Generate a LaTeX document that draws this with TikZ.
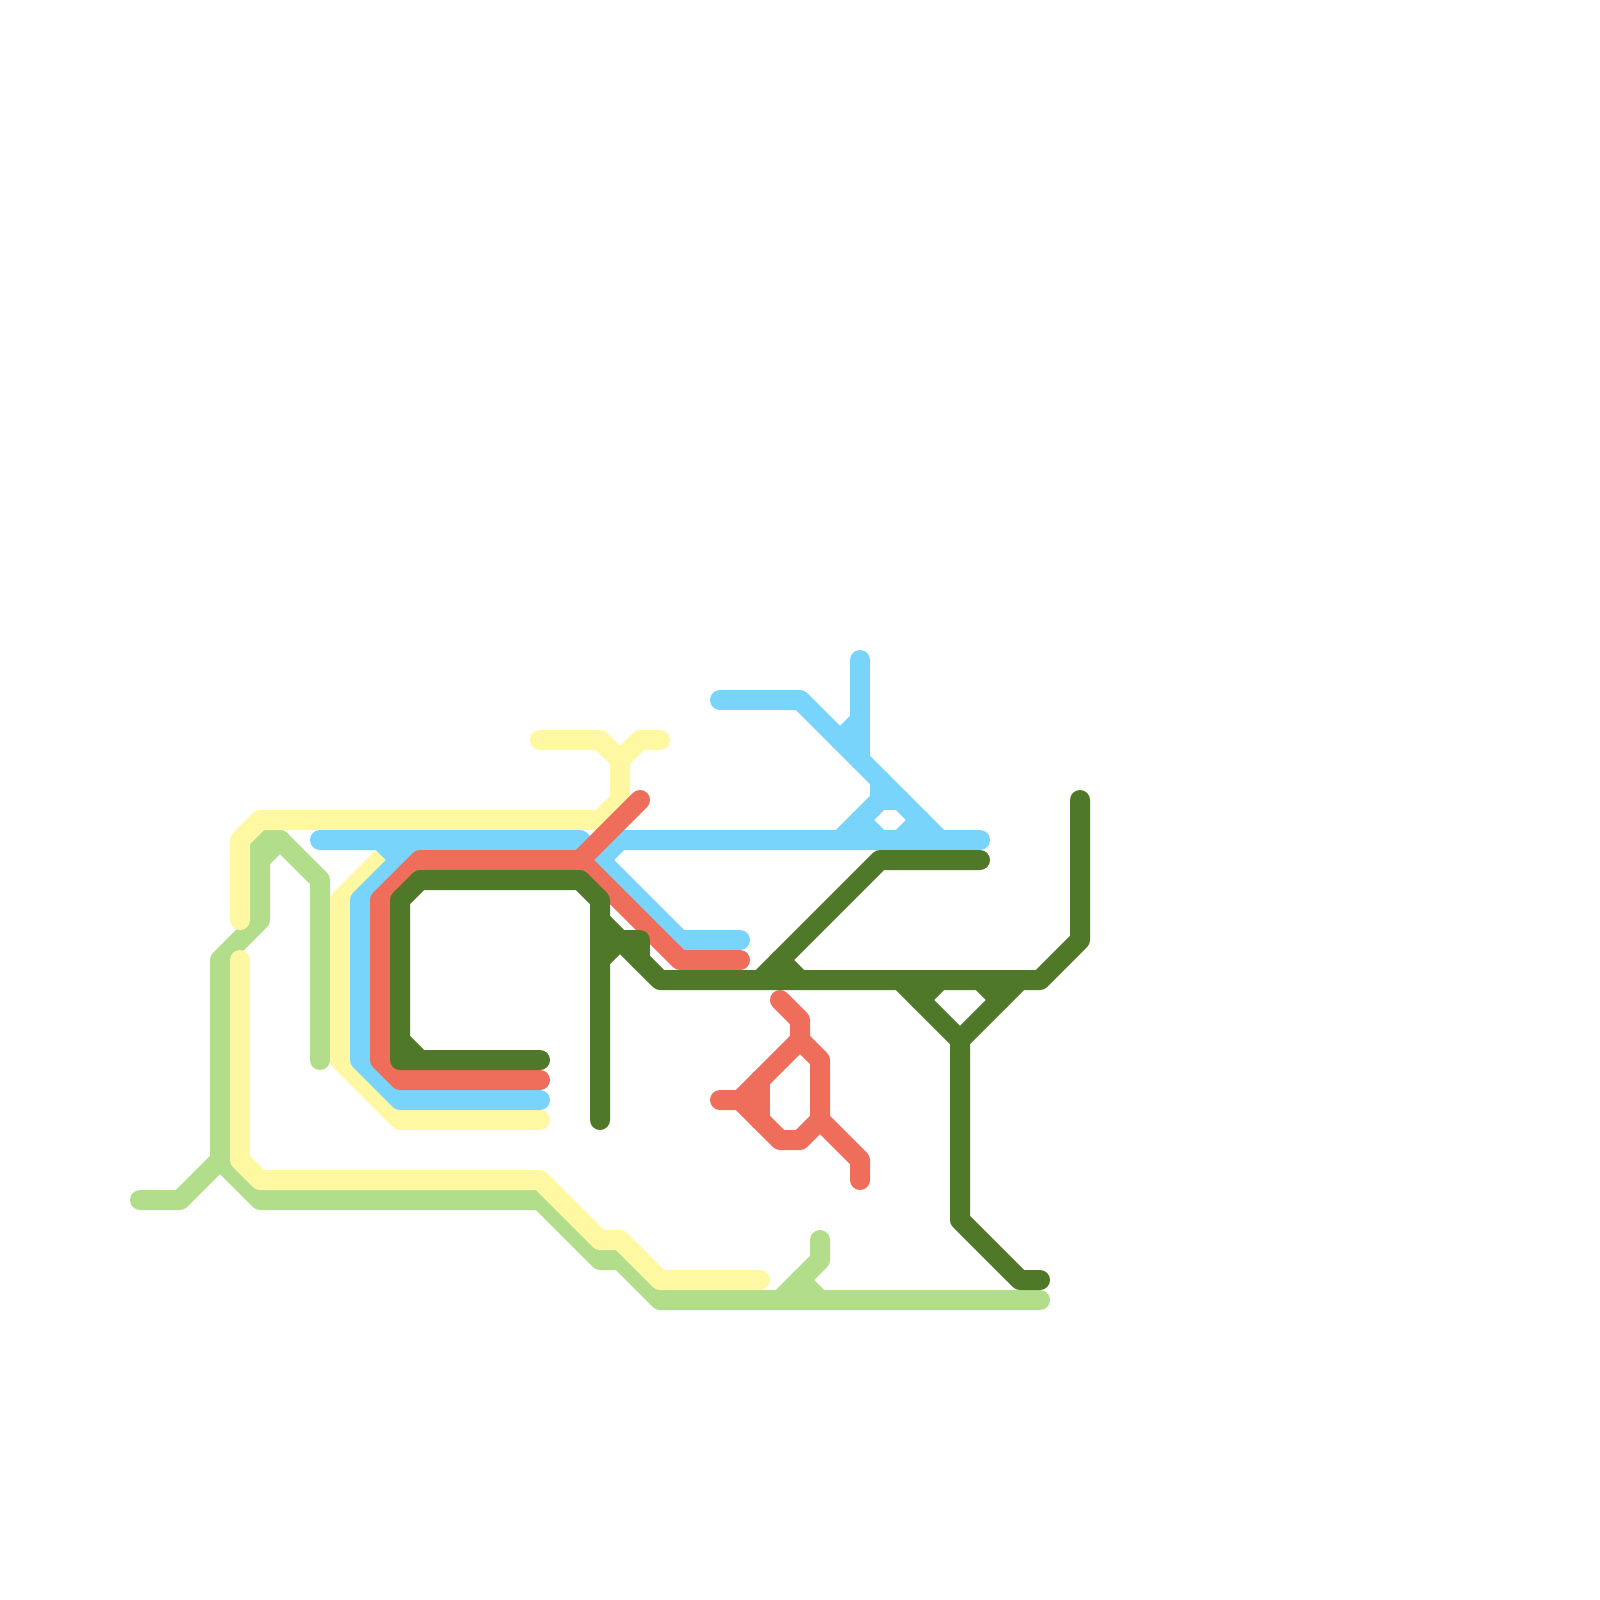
\documentclass[tikz,border=0pt]{standalone}
\definecolor{lgreen}{HTML}{B2DE8C}
\definecolor{lyellow}{HTML}{FFF8A3}
\definecolor{lblue}{HTML}{79D4FB}
\definecolor{lred}{HTML}{EF6E5B}
\definecolor{dgreen}{HTML}{4F7928}
\tikzset{
  route/.style={line width=0.5cm,line cap=round,line join=round},
  lgline/.style={route,draw=lgreen},
  ylline/.style={route,draw=lyellow},
  blline/.style={route,draw=lblue},
  rdline/.style={route,draw=lred},
  dgline/.style={route,draw=dgreen}
}
\begin{document}
\begin{tikzpicture}[x=0.5cm,y=-0.5cm]
\useasboundingbox[fill=white] (0,0) rectangle (80,80);
% light green
\draw[lgline] (7,60) -- (9,60) -- (11,58) -- (11,48) -- (13,46) -- (13,42) -- (14,42) -- (16,44) -- (16,53);
\draw[lgline] (13,43) -- (14,42);
\draw[lgline] (11,58) -- (13,60) -- (27,60) -- (30,63) -- (31,63) -- (33,65) -- (52,65);
\draw[lgline] (41,62) -- (41,63) -- (39,65);
\draw[lgline] (40,64) -- (41,65);
% yellow
\draw[ylline] (27,37) -- (30,37) -- (31,38) -- (31,40) -- (30,41) -- (13,41) -- (12,42) -- (12,46);
\draw[ylline] (31,38) -- (32,37) -- (33,37);
\draw[ylline] (12,48) -- (12,58) -- (13,59) -- (27,59) -- (30,62) -- (31,62) -- (33,64) -- (38,64);
\draw[ylline] (19,43) -- (17,45) -- (17,53) -- (20,56) -- (27,56);
% blue
\draw[blline] (16,42) -- (29,42) -- (30,43) -- (34,47) -- (37,47);
\draw[blline] (30,43) -- (31,42) -- (49,42);
\draw[blline] (19,42) -- (20,43);
\draw[blline] (21,42) -- (18,45) -- (18,53) -- (20,55) -- (27,55);
\draw[blline] (36,35) -- (40,35) -- (47,42);
\draw[blline] (43,33) -- (43,38);
\draw[blline] (42,37) -- (43,36);
\draw[blline] (44,39) -- (44,40) -- (42,42);
\draw[blline] (44,40) -- (45,40);
\draw[blline] (43,41) -- (44,42);
\draw[blline] (45,42) -- (46,41);
% red
\draw[rdline] (32,40) -- (29,43) -- (21,43) -- (19,45) -- (19,53) -- (20,54) -- (27,54);
\draw[rdline] (29,43) -- (34,48) -- (37,48);
\draw[rdline] (39,50) -- (40,51) -- (40,52) -- (41,53) -- (41,56) -- (43,58) -- (43,59);
\draw[rdline] (41,56) -- (40,57) -- (39,57) -- (37,55) -- (36,55);
\draw[rdline] (37,55) -- (40,52);
\draw[rdline] (38,54) -- (38,56);
% dark green
\draw[dgline] (27,53) -- (20,53) -- (20,45) -- (21,44) -- (29,44) -- (30,45) -- (30,56);
\draw[dgline] (20,52) -- (21,53);
\draw[dgline] (30,46) -- (31,47) -- (33,49) -- (52,49) -- (54,47) -- (54,40);
\draw[dgline] (31,47) -- (32,47) -- (32,48);
\draw[dgline] (30,48) -- (31,47);
\draw[dgline] (49,43) -- (44,43) -- (38,49);
\draw[dgline] (39,48) -- (40,49);
\draw[dgline] (45,49) -- (48,52) -- (51,49);
\draw[dgline] (46,50) -- (47,49);
\draw[dgline] (49,49) -- (50,50);
\draw[dgline] (48,52) -- (48,61) -- (51,64) -- (52,64);
\end{tikzpicture}
\end{document}
